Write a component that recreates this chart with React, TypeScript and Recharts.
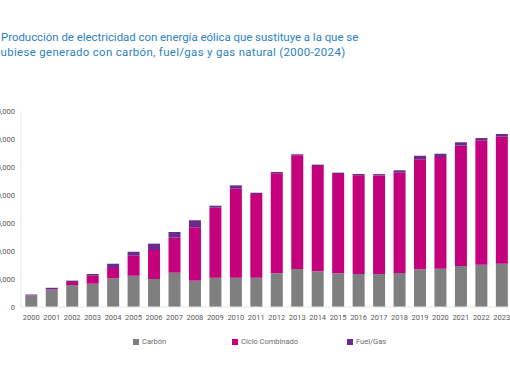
import { BarChart, Bar, XAxis, YAxis } from "recharts";

const years = [
  "2000", "2001", "2002", "2003", "2004", "2005", "2006", "2007", "2008", "2009", "2010", "2011",
  "2012", "2013", "2014", "2015", "2016", "2017", "2018", "2019", "2020", "2021", "2022", "2023",
];
const carbon = [
  2100, 3100, 3930, 4160, 5120, 5590, 5000, 6130, 4700, 5230, 5230, 5230,
  6020, 6790, 6380, 6020, 5890, 5890, 6070, 6730, 6840, 7320, 7550, 7730,
];
const cicloCombinado = [
  0, 80, 540, 1430, 1840, 3570, 5180, 6250, 9540, 12500, 15890, 14930,
  17860, 20300, 18800, 17730, 17620, 17600, 17910, 19640, 19940, 21490, 22140, 22680,
];
const fuelGas = [
  150, 250, 240, 300, 770, 710, 1130, 1010, 1250, 360, 600, 240,
  240, 180, 240, 240, 240, 240, 430, 640, 590, 600, 480, 480,
];
const yTicks = [0, 5000, 10000, 15000, 20000, 25000, 30000, 35000];

const COLORS = { carbon: "#7f7f7f", ciclo: "#c5007c", fuel: "#6a2b8e" };

const data = years.map((y, i) => ({
  year: y,
  carbon: carbon[i],
  ciclo: cicloCombinado[i],
  fuel: fuelGas[i],
}));

const legendItems = [
  { label: "Carbón", color: COLORS.carbon, width: 99 },
  { label: "Ciclo Combinado", color: COLORS.ciclo, width: 115 },
  { label: "Fuel/Gas", color: COLORS.fuel, width: 80 },
];

const titleStyle = {
  position: "absolute" as const,
  fontSize: 11.4,
  color: "#2a7fc3",
  whiteSpace: "nowrap" as const,
  fontFamily: "Roboto, sans-serif",
};

export default function App() {
  return (
    <div
      style={{
        position: "absolute",
        left: 0,
        top: 0,
        width: 510,
        height: 382,
        overflow: "hidden",
        background: "#fff",
        fontFamily: "Roboto, sans-serif",
      }}
    >
      <div style={{ ...titleStyle, left: 1, top: 30 }}>
        Producción de electricidad con energía eólica que sustituye a la que se
      </div>
      <div style={{ ...titleStyle, left: -6, top: 45, letterSpacing: 0.35 }}>
        hubiese generado con carbón, fuel/gas y gas natural (2000-2024)
      </div>
      <div style={{ position: "absolute", left: 0, top: 0 }}>
        <BarChart
          width={512}
          height={382}
          data={data}
          margin={{ top: 111, right: 0, bottom: 50, left: 0 }}
          barCategoryGap="21%"
        >
          <XAxis
            dataKey="year"
            tickLine={false}
            axisLine={{ stroke: "#e6e6e6" }}
            tickSize={0}
            tickMargin={8}
            interval={0}
            height={25}
            tick={{ fontSize: 7.5, fill: "#595959", fontFamily: "Roboto" }}
          />
          <YAxis
            width={21}
            domain={[0, 35000]}
            ticks={yTicks}
            tickLine={false}
            axisLine={{ stroke: "#e6e6e6" }}
            tickSize={0}
            tickMargin={6}
            tickFormatter={(v: number) => v.toLocaleString("en-US")}
            tick={{ fontSize: 7.5, fill: "#595959", fontFamily: "Roboto" }}
          />
          <Bar dataKey="carbon" stackId="a" fill={COLORS.carbon} isAnimationActive={false} />
          <Bar dataKey="ciclo" stackId="a" fill={COLORS.ciclo} isAnimationActive={false} />
          <Bar dataKey="fuel" stackId="a" fill={COLORS.fuel} isAnimationActive={false} />
        </BarChart>
      </div>
      <div
        style={{
          position: "absolute",
          left: 133,
          top: 337,
          display: "flex",
          fontSize: 7.5,
          color: "#6b6b6b",
        }}
      >
        {legendItems.map((it) => (
          <div key={it.label} style={{ width: it.width, display: "flex", alignItems: "center" }}>
            <span
              style={{ width: 6, height: 6, background: it.color, display: "inline-block", marginRight: 3 }}
            />
            {it.label}
          </div>
        ))}
      </div>
    </div>
  );
}
